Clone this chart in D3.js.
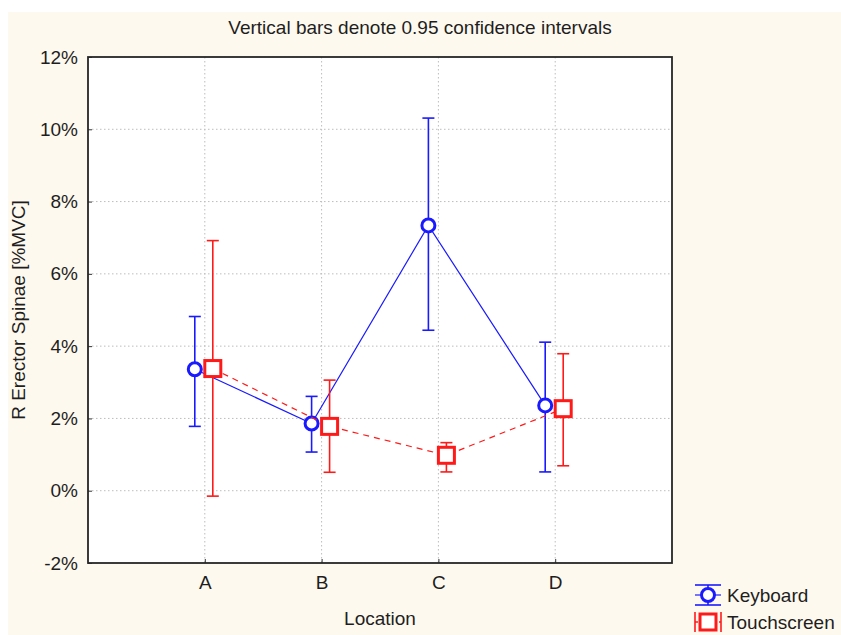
<!DOCTYPE html>
<html>
<head>
<meta charset="utf-8">
<script src="https://cdn.jsdelivr.net/npm/d3@7/dist/d3.min.js"></script>
<style>
  html, body { margin: 0; padding: 0; background: #ffffff; }
  svg { display: block; }
  text { font-family: "Liberation Sans", Arial, sans-serif; fill: #1e1e1e; }
</style>
</head>
<body>
<svg id="chart" width="841" height="635"></svg>
<script>
// Mean muscle activity per location, with 95% confidence limits
const locations = ["A", "B", "C", "D"];
const keyboardMean  = [3.36, 1.86, 7.34, 2.36];
const keyboardLow   = [1.78, 1.07, 4.44, 0.52];
const keyboardHigh  = [4.82, 2.61, 10.31, 4.11];
const touchMean     = [3.38, 1.78, 0.98, 2.27];
const touchLow      = [-0.15, 0.51, 0.52, 0.69];
const touchHigh     = [6.92, 3.06, 1.33, 3.79];
const yTicks = [-2, 0, 2, 4, 6, 8, 10, 12];

const svg = d3.select("#chart");
const W = 841, H = 635;
const plot = { left: 88, right: 672, top: 57, bottom: 563 };
const FS = 19;

// cream page background
svg.append("rect").attr("x", 8).attr("y", 12).attr("width", W - 8).attr("height", H - 12)
  .attr("fill", "#fef9ee");
svg.append("rect").attr("x", plot.left).attr("y", plot.top)
  .attr("width", plot.right - plot.left).attr("height", plot.bottom - plot.top)
  .attr("fill", "#ffffff");

const x = d3.scalePoint().domain(["", ...locations, " "]).range([plot.left, plot.right]);
const y = d3.scaleLinear().domain([-2, 12]).range([plot.bottom, plot.top]);

// dotted grid
const grid = svg.append("g").attr("stroke", "#bdbdbd").attr("stroke-dasharray", "1.5,2.5").attr("stroke-width", 1);
yTicks.slice(1, -1).forEach(t => {
  grid.append("line").attr("x1", plot.left).attr("x2", plot.right).attr("y1", y(t)).attr("y2", y(t));
});
locations.forEach(l => {
  grid.append("line").attr("x1", x(l)).attr("x2", x(l)).attr("y1", plot.top).attr("y2", plot.bottom);
});

// axes
const yAxis = d3.axisLeft(y).tickValues(yTicks).tickFormat(d => d + "%").tickSizeInner(-4).tickSizeOuter(0).tickPadding(10);
const gy = svg.append("g").attr("transform", `translate(${plot.left},0)`).call(yAxis);
gy.select(".domain").remove();
gy.selectAll("line").attr("stroke", "#333");
gy.selectAll("text").attr("font-size", FS).attr("font-family", "Liberation Sans, Arial, sans-serif").attr("fill", "#1e1e1e");

const xAxis = d3.axisBottom(x).tickValues(locations).tickSizeInner(-4).tickSizeOuter(0).tickPadding(13);
const gx = svg.append("g").attr("transform", `translate(0,${plot.bottom})`).call(xAxis);
gx.select(".domain").remove();
gx.selectAll("line").attr("stroke", "#333");
gx.selectAll("text").attr("font-size", FS).attr("font-family", "Liberation Sans, Arial, sans-serif").attr("fill", "#1e1e1e");

// frame
svg.append("rect").attr("x", plot.left).attr("y", plot.top)
  .attr("width", plot.right - plot.left).attr("height", plot.bottom - plot.top)
  .attr("fill", "none").attr("stroke", "#262626").attr("stroke-width", 1.8);

// titles
svg.append("text").attr("x", 420).attr("y", 34).attr("text-anchor", "middle")
  .attr("font-size", FS).text("Vertical bars denote 0.95 confidence intervals");
svg.append("text").attr("transform", `translate(25,${(plot.top + plot.bottom) / 2}) rotate(-90)`)
  .attr("text-anchor", "middle").attr("font-size", FS).text("R Erector Spinae [%MVC]");
svg.append("text").attr("x", (plot.left + plot.right) / 2).attr("y", 625).attr("text-anchor", "middle")
  .attr("font-size", FS).text("Location");

const blue = "#1a1aff", red = "#ff1a1a";
const series = [
  { name: "Keyboard", mean: keyboardMean, lo: keyboardLow, hi: keyboardHigh, color: blue, dx: -10, dash: null, shape: "circle" },
  { name: "Touchscreen", mean: touchMean, lo: touchLow, hi: touchHigh, color: red, dx: 8, dash: "6,5", shape: "square" }
];

series.forEach(s => {
  const g = svg.append("g");
  const pts = locations.map((l, i) => [x(l) + s.dx, y(s.mean[i])]);
  g.append("path").attr("d", d3.line()(pts)).attr("fill", "none")
    .attr("stroke", s.color).attr("stroke-width", 1.2).attr("stroke-dasharray", s.dash);
  locations.forEach((l, i) => {
    const cx = x(l) + s.dx;
    g.append("line").attr("x1", cx).attr("x2", cx).attr("y1", y(s.lo[i])).attr("y2", y(s.hi[i]))
      .attr("stroke", s.color).attr("stroke-width", 1.6);
    [s.lo[i], s.hi[i]].forEach(v => {
      g.append("line").attr("x1", cx - 6).attr("x2", cx + 6).attr("y1", y(v)).attr("y2", y(v))
        .attr("stroke", s.color).attr("stroke-width", 1.6);
    });
  });
  locations.forEach((l, i) => {
    const cx = x(l) + s.dx, cy = y(s.mean[i]);
    if (s.shape === "circle") {
      g.append("circle").attr("cx", cx).attr("cy", cy).attr("r", 6.5)
        .attr("fill", "#fff").attr("stroke", s.color).attr("stroke-width", 3);
    } else {
      g.append("rect").attr("x", cx - 8).attr("y", cy - 8).attr("width", 16).attr("height", 16)
        .attr("fill", "#fff").attr("stroke", s.color).attr("stroke-width", 3);
    }
  });
});

// legend
const lg = svg.append("g");
[0, 1].forEach(k => {
  const s = series[k];
  const cx = 708, cy = 595 + k * 27;
  if (k === 0) {
    lg.append("line").attr("x1", cx - 13).attr("x2", cx + 13).attr("y1", cy - 10).attr("y2", cy - 10).attr("stroke", s.color).attr("stroke-width", 1.6);
    lg.append("line").attr("x1", cx - 13).attr("x2", cx + 13).attr("y1", cy + 10).attr("y2", cy + 10).attr("stroke", s.color).attr("stroke-width", 1.6);
    lg.append("line").attr("x1", cx).attr("x2", cx).attr("y1", cy - 10).attr("y2", cy + 10).attr("stroke", s.color).attr("stroke-width", 1.6);
    lg.append("line").attr("x1", cx - 13).attr("x2", cx + 13).attr("y1", cy).attr("y2", cy).attr("stroke", s.color).attr("stroke-width", 1.2);
    lg.append("circle").attr("cx", cx).attr("cy", cy).attr("r", 6.5).attr("fill", "#fff").attr("stroke", s.color).attr("stroke-width", 3);
  } else {
    lg.append("line").attr("x1", cx - 13).attr("x2", cx - 13).attr("y1", cy - 10).attr("y2", cy + 10).attr("stroke", s.color).attr("stroke-width", 1.6);
    lg.append("line").attr("x1", cx + 13).attr("x2", cx + 13).attr("y1", cy - 10).attr("y2", cy + 10).attr("stroke", s.color).attr("stroke-width", 1.6);
    lg.append("line").attr("x1", cx - 13).attr("x2", cx + 13).attr("y1", cy).attr("y2", cy).attr("stroke", s.color).attr("stroke-width", 1.6).attr("stroke-dasharray", "3,3");
    lg.append("rect").attr("x", cx - 8).attr("y", cy - 8).attr("width", 16).attr("height", 16).attr("fill", "#fff").attr("stroke", s.color).attr("stroke-width", 3);
  }
  lg.append("text").attr("x", cx + 19).attr("y", cy + 7).attr("font-size", FS).text(s.name);
});
</script>
</body>
</html>
